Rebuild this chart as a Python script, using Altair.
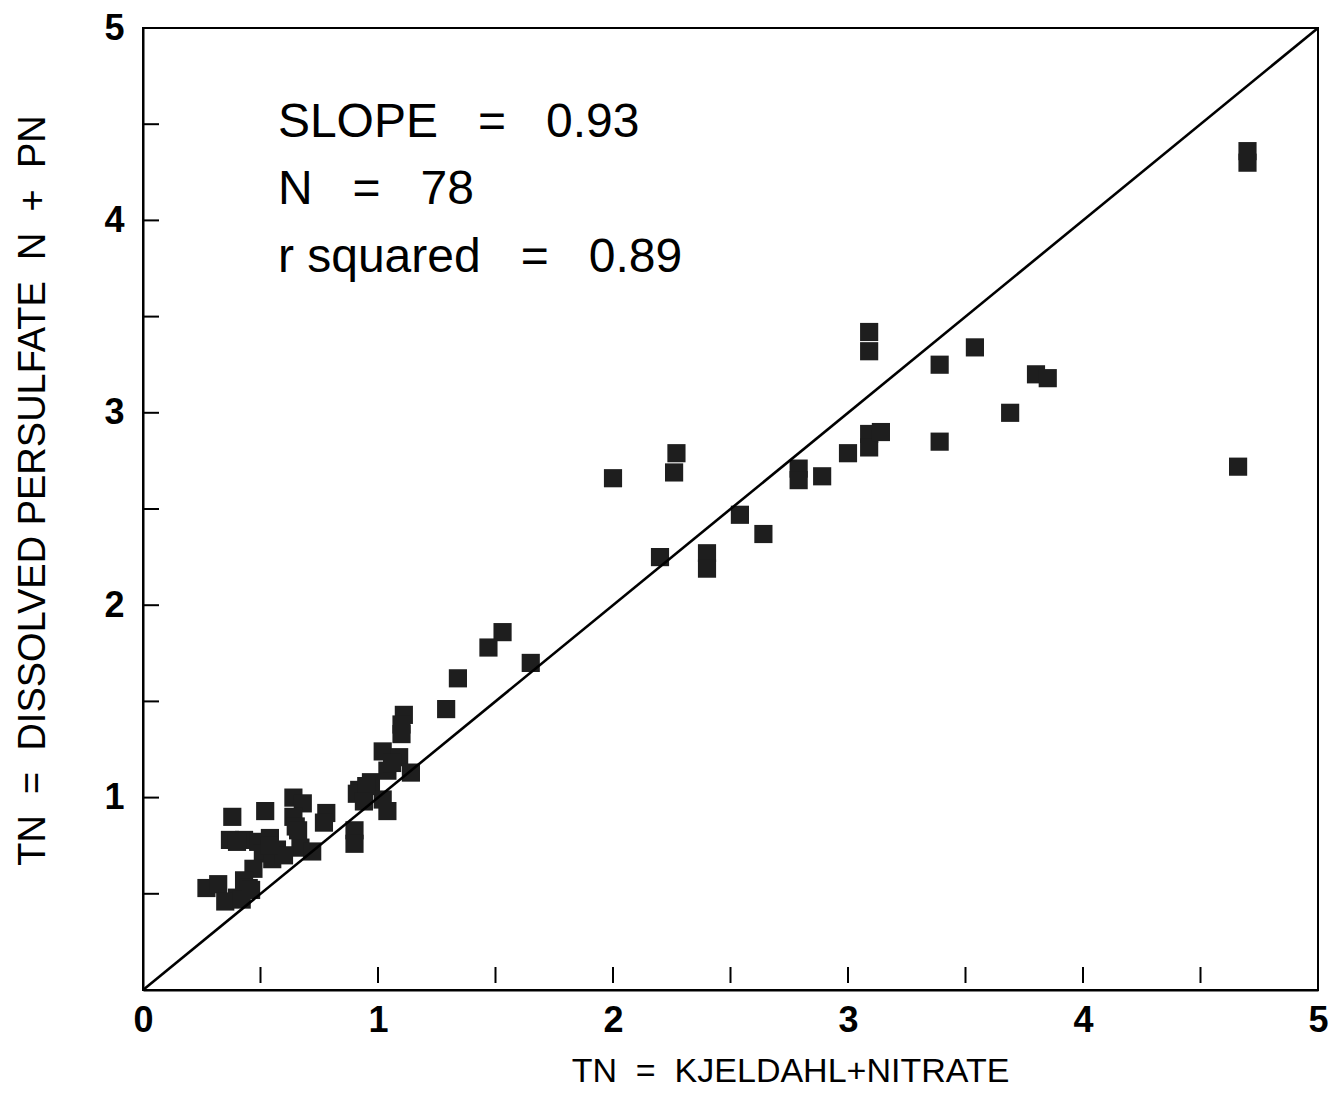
import altair as alt
import pandas as pd

FONT = "Liberation Sans"
NB = "\u00a0"

# TN = Kjeldahl + nitrate (x) vs TN = dissolved persulfate N + PN (y)
kjeldahl = [4.70, 4.70, 4.66, 3.09, 3.09, 3.39, 3.54, 3.80, 3.85, 3.69,
            3.39, 3.09, 3.09, 3.14, 3.00, 2.79, 2.79, 2.89, 2.00, 2.27,
            2.26, 2.54, 2.64, 2.20, 2.40, 2.40, 1.53, 1.47, 1.65, 1.34,
            1.29, 1.11, 1.10, 1.10, 1.02, 1.09, 1.04, 1.14, 0.97, 0.92,
            1.02, 1.04, 0.90, 0.90, 0.78, 0.77, 0.64, 0.68, 0.64, 0.65,
            0.52, 0.38, 0.37, 0.43, 0.49, 0.54, 0.57, 0.51, 0.67, 0.72,
            0.47, 0.43, 0.45, 0.40, 0.27, 0.32, 0.35, 0.91, 0.55, 0.60,
            0.42, 0.95, 0.54, 0.66, 1.06, 0.40, 0.94, 0.46]
persulfate = [4.36, 4.30, 2.72, 3.42, 3.32, 3.25, 3.34, 3.20, 3.18, 3.00,
              2.85, 2.89, 2.82, 2.90, 2.79, 2.71, 2.65, 2.67, 2.66, 2.79,
              2.69, 2.47, 2.37, 2.25, 2.27, 2.19, 1.86, 1.78, 1.70, 1.62,
              1.46, 1.43, 1.38, 1.33, 1.24, 1.21, 1.14, 1.13, 1.08, 1.04,
              0.99, 0.93, 0.83, 0.76, 0.92, 0.87, 1.00, 0.97, 0.90, 0.85,
              0.93, 0.90, 0.78, 0.78, 0.77, 0.79, 0.73, 0.71, 0.74, 0.72,
              0.63, 0.57, 0.53, 0.48, 0.53, 0.55, 0.46, 1.02, 0.68, 0.70,
              0.47, 1.06, 0.75, 0.83, 1.18, 0.77, 0.98, 0.52]

x_label_values = [0, 1, 2, 3, 4, 5]
y_label_values = [1, 2, 3, 4, 5]
minor_ticks = [0.5, 1, 1.5, 2, 2.5, 3, 3.5, 4, 4.5]
line_x = [0, 5]
line_y = [0, 5]
stats_text = ["SLOPE" + NB * 3 + "=" + NB * 3 + "0.93",
              "N" + NB * 3 + "=" + NB * 3 + "78",
              "r squared" + NB * 3 + "=" + NB * 3 + "0.89"]
stats_x = [0.574, 0.574, 0.574]
stats_y = [4.435, 4.087, 3.734]
x_title = "TN" + NB * 2 + "=" + NB * 2 + "KJELDAHL+NITRATE"
y_title = "TN" + NB * 2 + "=" + NB * 2 + "DISSOLVED PERSULFATE" + NB * 2 + "N" + NB * 2 + "+" + NB * 2 + "PN"

xs = alt.Scale(domain=[0, 5], nice=False, zero=False)
ys = alt.Scale(domain=[0, 5], nice=False, zero=False)

pts = pd.DataFrame({"x": kjeldahl, "y": persulfate})

x_axis = alt.Axis(
    values=x_label_values, format="d", grid=False, ticks=False, tickSize=0,
    labelFont=FONT, labelFontSize=36, labelFontWeight="bold", labelColor="black",
    labelPadding=13, labelFlush=False, labelOverlap=False,
    domainColor="black", domainWidth=2,
    title=x_title, titleFont=FONT, titleFontSize=34,
    titleFontWeight="normal", titleColor="black",
    titleX=647, titleY=91, titleBaseline="alphabetic", titleAlign="center",
)
y_axis = alt.Axis(
    values=y_label_values, format="d", grid=False, ticks=False, tickSize=0,
    labelFont=FONT, labelFontSize=36, labelFontWeight="bold", labelColor="black",
    labelPadding=19, labelFlush=False, labelOverlap=False,
    domainColor="black", domainWidth=2,
    title=y_title, titleFont=FONT, titleFontSize=38,
    titleFontWeight="normal", titleColor="black",
    titleX=-110, titleY=462, titleBaseline="middle", titleAlign="center",
)

points = alt.Chart(pts).mark_square(size=330, color="#1e1e1e", opacity=1).encode(
    x=alt.X("x:Q", scale=xs, axis=x_axis),
    y=alt.Y("y:Q", scale=ys, axis=y_axis),
)

diag = alt.Chart(pd.DataFrame({"x": line_x, "y": line_y})).mark_line(
    color="black", strokeWidth=2.6
).encode(
    x=alt.X("x:Q", scale=xs, axis=x_axis),
    y=alt.Y("y:Q", scale=ys, axis=y_axis),
)

xticks = alt.Chart(pd.DataFrame({"x": minor_ticks, "y": [0] * len(minor_ticks)})).mark_tick(
    orient="vertical", size=16, thickness=2, color="black", yOffset=-15, opacity=1
).encode(
    x=alt.X("x:Q", scale=xs, axis=x_axis),
    y=alt.Y("y:Q", scale=ys, axis=y_axis),
)

yticks = alt.Chart(pd.DataFrame({"x": [0] * len(minor_ticks), "y": minor_ticks})).mark_tick(
    orient="horizontal", size=16, thickness=2, color="black", xOffset=8, opacity=1
).encode(
    x=alt.X("x:Q", scale=xs, axis=x_axis),
    y=alt.Y("y:Q", scale=ys, axis=y_axis),
)

stats = alt.Chart(pd.DataFrame({"t": stats_text, "x": stats_x, "y": stats_y})).mark_text(
    align="left", baseline="alphabetic", font=FONT, fontSize=48, color="black"
).encode(
    x=alt.X("x:Q", scale=xs, axis=x_axis),
    y=alt.Y("y:Q", scale=ys, axis=y_axis),
    text="t:N",
)

chart = alt.layer(points, diag, xticks, yticks, stats).properties(
    width=1175, height=962,
    autosize=alt.AutoSizeParams(type="none"),
    padding={"left": 135, "top": 20, "right": 15, "bottom": 99},
    background="white",
).configure_view(stroke="black", strokeWidth=2)

chart.save("out.html", embed_options={"renderer": "svg", "actions": False})
